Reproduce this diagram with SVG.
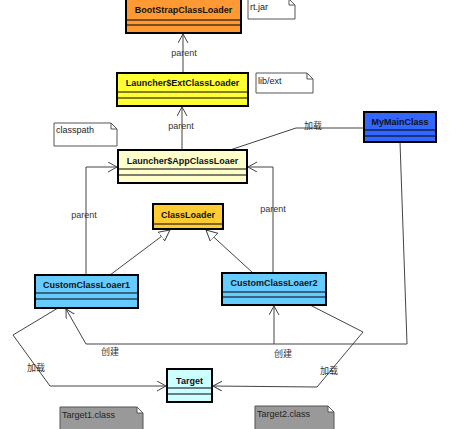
<svg xmlns="http://www.w3.org/2000/svg" width="470" height="429" viewBox="0 0 470 429">
<style>
.box{stroke:#000;stroke-width:2}
.sep{stroke:#000;stroke-width:1}
.title{font-family:"Liberation Sans",Arial,sans-serif;font-size:9px;font-weight:bold;fill:#111;text-anchor:middle}
.lbl{font-family:"Liberation Sans","Noto Sans CJK SC",sans-serif;font-size:9px;fill:#333;text-anchor:middle}
.conn{fill:none;stroke:#444;stroke-width:1}
.note{fill:#fff;stroke:#555;stroke-width:1}
.gnote{fill:#999;stroke:#555;stroke-width:1}
.ntxt{font-family:"Liberation Sans",Arial,sans-serif;font-size:9px;fill:#222}
</style>
<defs>
<marker id="open" markerUnits="userSpaceOnUse" markerWidth="12" markerHeight="12" refX="9" refY="5" orient="auto" viewBox="0 0 12 12">
<path d="M0,0 L9,5 L0,10" fill="none" stroke="#444" stroke-width="1"/>
</marker>
<marker id="tri" markerUnits="userSpaceOnUse" markerWidth="14" markerHeight="14" refX="11" refY="6" orient="auto" viewBox="0 0 14 14">
<path d="M0,0.5 L11,6 L0,11.5 Z" fill="#fff" stroke="#444" stroke-width="1"/>
</marker>
</defs>

<g id="connectors">
<path class="conn" d="M183,73 L183,34" marker-end="url(#open)"/>
<path class="conn" d="M182,150 L182,107" marker-end="url(#open)"/>
<path class="conn" d="M86,275 L86,167 L117,167" marker-end="url(#open)"/>
<path class="conn" d="M273,273 L273,167 L248,167" marker-end="url(#open)"/>
<path class="conn" d="M110,275 L170,230" marker-end="url(#tri)"/>
<path class="conn" d="M253,273 L206,230" marker-end="url(#tri)"/>
<path class="conn" d="M364,128 L296,128 L230,150"/>
<path class="conn" d="M400,142 L407,344 L86,344 L66,309" marker-end="url(#open)"/>
<path class="conn" d="M274,344 L274,306" marker-end="url(#open)"/>
<path class="conn" d="M58,308 L13,335 L50,386 L166,386" marker-end="url(#open)"/>
<path class="conn" d="M310,305 L363,332 L317,387 L213,386" marker-end="url(#open)"/>
<text class="lbl" x="184" y="56">parent</text>
<text class="lbl" x="181" y="129">parent</text>
<text class="lbl" x="84" y="218">parent</text>
<text class="lbl" x="273" y="212">parent</text>
<text class="lbl" x="313" y="129">加载</text>
<text class="lbl" x="110" y="355">创建</text>
<text class="lbl" x="283" y="357">创建</text>
<text class="lbl" x="36" y="371">加载</text>
<text class="lbl" x="329" y="374">加载</text>
</g>

<g id="boot">
<rect class="box" x="126" y="-1" width="115" height="34" fill="#FF9933"/>
<line class="sep" x1="126" y1="20" x2="241" y2="20"/>
<line class="sep" x1="126" y1="25" x2="241" y2="25"/>
<text class="title" x="183.5" y="13">BootStrapClassLoader</text>
</g>

<g id="note-rtjar">
<path class="note" d="M248,-1 L289,-1 L295,5 L295,19 L248,19 Z M289,-1 L289,5 L295,5"/>
<text class="ntxt" x="250" y="10">rt.jar</text>
</g>

<g id="ext">
<rect class="box" x="117" y="73" width="131" height="33" fill="#FFFF33"/>
<line class="sep" x1="117" y1="92" x2="248" y2="92"/>
<line class="sep" x1="117" y1="98" x2="248" y2="98"/>
<text class="title" x="182.5" y="86">Launcher$ExtClassLoader</text>
</g>

<g id="note-libext">
<path class="note" d="M256,73 L307,73 L313,79 L313,93 L256,93 Z M307,73 L307,79 L313,79"/>
<text class="ntxt" x="258" y="84">lib/ext</text>
</g>

<g id="note-classpath">
<path class="note" d="M54,123 L111,123 L117,129 L117,146 L54,146 Z M111,123 L111,129 L117,129"/>
<text class="ntxt" x="56" y="133">classpath</text>
</g>

<g id="app">
<rect class="box" x="118" y="150" width="129" height="33" fill="#FFFFCC"/>
<line class="sep" x1="118" y1="169" x2="247" y2="169"/>
<line class="sep" x1="118" y1="175" x2="247" y2="175"/>
<text class="title" x="182.5" y="164">Launcher$AppClassLoaer</text>
</g>

<g id="mymain">
<rect class="box" x="364" y="112" width="72" height="30" fill="#3366FF"/>
<line class="sep" x1="364" y1="130" x2="436" y2="130"/>
<line class="sep" x1="364" y1="136" x2="436" y2="136"/>
<text class="title" x="400" y="125">MyMainClass</text>
</g>

<g id="classloader">
<rect class="box" x="153" y="204" width="70" height="25" fill="#FFCC33"/>
<line class="sep" x1="153" y1="224" x2="223" y2="224"/>
<text class="title" x="188" y="218">ClassLoader</text>
</g>

<g id="ccl1">
<rect class="box" x="35" y="275" width="103" height="33" fill="#66CCFF"/>
<line class="sep" x1="35" y1="293" x2="138" y2="293"/>
<line class="sep" x1="35" y1="299" x2="138" y2="299"/>
<text class="title" x="86.5" y="288">CustomClassLoaer1</text>
</g>

<g id="ccl2">
<rect class="box" x="222" y="273" width="104" height="32" fill="#66CCFF"/>
<line class="sep" x1="222" y1="292" x2="326" y2="292"/>
<line class="sep" x1="222" y1="297" x2="326" y2="297"/>
<text class="title" x="274" y="286">CustomClassLoaer2</text>
</g>

<g id="target">
<rect class="box" x="167" y="369" width="45" height="33" fill="#CCFFFF"/>
<line class="sep" x1="167" y1="388" x2="212" y2="388"/>
<line class="sep" x1="167" y1="394" x2="212" y2="394"/>
<text class="title" x="189.5" y="384">Target</text>
</g>

<g id="note-target1">
<path class="gnote" d="M60,407 L137,407 L143,413 L143,432 L60,432 Z M137,407 L137,413 L143,413"/>
<text class="ntxt" x="62" y="418">Target1.class</text>
</g>

<g id="note-target2">
<path class="gnote" d="M255,406 L328,406 L334,412 L334,432 L255,432 Z M328,406 L328,412 L334,412"/>
<text class="ntxt" x="257" y="417">Target2.class</text>
</g>
</svg>
